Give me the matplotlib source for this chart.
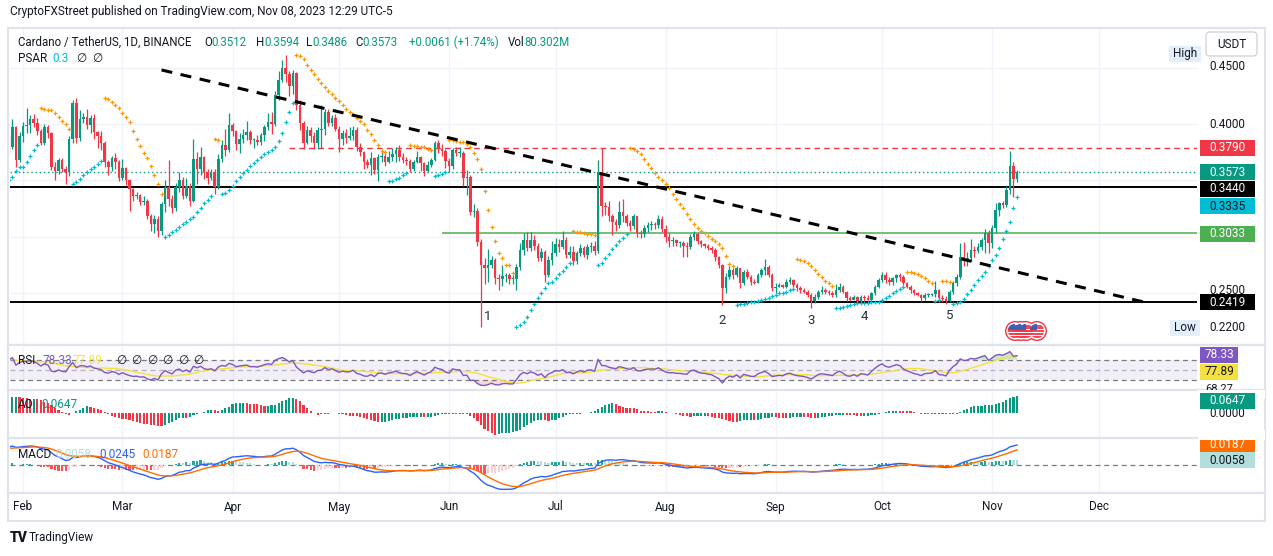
import numpy as np
import pandas as pd
import matplotlib
matplotlib.use("Agg")
import matplotlib.pyplot as plt
from matplotlib.patches import Rectangle, Circle, FancyBboxPatch

plt.rcParams['font.family'] = ['Roboto', 'DejaVu Sans']

W, H = 1273, 556
DARK = '#131722'
GREEN = '#089981'
RED = '#f23645'

# ---------------------------------------------------------------- data
# daily closes Dec 1 2022 .. Jan 27 2023, only used to warm up the indicators
warmup_close = [
    0.316, 0.313, 0.316, 0.320, 0.313, 0.313, 0.303, 0.310, 0.311, 0.311,
    0.307, 0.304, 0.306, 0.298, 0.280, 0.267, 0.271, 0.269, 0.259, 0.268,
    0.261, 0.255, 0.258, 0.262, 0.262, 0.260, 0.255, 0.251, 0.249, 0.249, 0.246,
    0.249, 0.259, 0.263, 0.275, 0.274, 0.279, 0.284, 0.294, 0.318, 0.324,
    0.323, 0.325, 0.329, 0.343, 0.335, 0.348, 0.347, 0.331, 0.345, 0.363,
    0.366, 0.356, 0.363, 0.348, 0.366, 0.375, 0.381,
]

first_day = pd.Timestamp("2023-01-28")

# ADA/USDT daily candles Jan 28 .. Nov 8 2023 (open = previous close)
close = [
    0.380, 0.397, 0.368, 0.389,
    # Feb
    0.398, 0.399, 0.404, 0.401, 0.394, 0.383, 0.397, 0.392, 0.362, 0.358,
    0.368, 0.360, 0.357, 0.387, 0.419, 0.388, 0.404, 0.406, 0.399, 0.405,
    0.393, 0.389, 0.383, 0.366, 0.362, 0.370, 0.366, 0.352,
    # Mar
    0.361, 0.350, 0.342, 0.336, 0.337, 0.331, 0.332, 0.318, 0.311, 0.316,
    0.305, 0.329, 0.344, 0.333, 0.325, 0.344, 0.350, 0.336, 0.345, 0.332,
    0.369, 0.360, 0.371, 0.357, 0.352, 0.357, 0.344, 0.369, 0.381, 0.377, 0.399,
    # Apr
    0.394, 0.382, 0.387, 0.390, 0.393, 0.386, 0.386, 0.384, 0.390, 0.397,
    0.402, 0.400, 0.426, 0.439, 0.450, 0.444, 0.434, 0.445, 0.417, 0.401,
    0.383, 0.395, 0.389, 0.383, 0.395, 0.396, 0.411, 0.401, 0.405, 0.396,
    # May
    0.387, 0.392, 0.388, 0.389, 0.395, 0.380, 0.375, 0.366, 0.364, 0.370,
    0.359, 0.371, 0.372, 0.366, 0.371, 0.373, 0.377, 0.371, 0.368, 0.367,
    0.360, 0.366, 0.371, 0.365, 0.358, 0.364, 0.368, 0.383, 0.378, 0.376, 0.367,
    # Jun
    0.363, 0.377, 0.374, 0.374, 0.352, 0.353, 0.322, 0.323, 0.295, 0.275,
    0.272, 0.275, 0.279, 0.263, 0.262, 0.265, 0.266, 0.262, 0.262, 0.273,
    0.288, 0.297, 0.290, 0.297, 0.292, 0.281, 0.286, 0.266, 0.279, 0.285,
    # Jul
    0.293, 0.291, 0.297, 0.284, 0.286, 0.278, 0.285, 0.290, 0.284, 0.291,
    0.292, 0.287, 0.357, 0.327, 0.326, 0.318, 0.313, 0.310, 0.322, 0.318,
    0.312, 0.309, 0.318, 0.303, 0.302, 0.308, 0.310, 0.311, 0.310, 0.316, 0.307,
    # Aug
    0.300, 0.296, 0.297, 0.294, 0.294, 0.292, 0.291, 0.300, 0.302, 0.296,
    0.293, 0.292, 0.290, 0.288, 0.282, 0.275, 0.254, 0.2644, 0.2703, 0.2660,
    0.2718, 0.2585, 0.2688, 0.2644, 0.2600, 0.2592, 0.2660, 0.2700, 0.2733, 0.2659, 0.2540,
    # Sep
    0.2555, 0.2570, 0.2555, 0.2600, 0.2614, 0.2570, 0.2540, 0.2526, 0.2511, 0.2481,
    0.2430, 0.2466, 0.2511, 0.2526, 0.2511, 0.2500, 0.2481, 0.2526, 0.2555, 0.2511,
    0.2452, 0.2440, 0.2466, 0.2425, 0.2466, 0.2455, 0.2437, 0.2496, 0.2555, 0.2614,
    # Oct
    0.2659, 0.2614, 0.2600, 0.2629, 0.2659, 0.2644, 0.2585, 0.2555, 0.2526, 0.2496,
    0.2481, 0.2452, 0.2481, 0.2485, 0.2490, 0.2526, 0.2452, 0.2447, 0.2425, 0.2511,
    0.2585, 0.2644, 0.2822, 0.2792, 0.2810, 0.2881, 0.2870, 0.2911, 0.2970, 0.3029, 0.2945,
    # Nov
    0.3074, 0.3236, 0.3296, 0.3281, 0.3414, 0.3627, 0.3512, 0.3573,
]

high = [
    0.389, 0.404, 0.398, 0.393,
    # Feb
    0.402, 0.414, 0.408, 0.409, 0.405, 0.396, 0.400, 0.399, 0.393, 0.366,
    0.370, 0.370, 0.363, 0.389, 0.421, 0.423, 0.412, 0.410, 0.413, 0.408,
    0.409, 0.394, 0.394, 0.385, 0.368, 0.372, 0.374, 0.368,
    # Mar
    0.369, 0.362, 0.351, 0.343, 0.340, 0.338, 0.336, 0.333, 0.320, 0.319,
    0.318, 0.331, 0.350, 0.368, 0.337, 0.348, 0.357, 0.353, 0.352, 0.348,
    0.387, 0.375, 0.380, 0.372, 0.360, 0.360, 0.360, 0.373, 0.386, 0.396, 0.410,
    # Apr
    0.401, 0.395, 0.392, 0.396, 0.403, 0.395, 0.388, 0.390, 0.392, 0.399,
    0.410, 0.411, 0.429, 0.447, 0.457, 0.461, 0.447, 0.448, 0.446, 0.421,
    0.403, 0.398, 0.397, 0.393, 0.397, 0.417, 0.413, 0.413, 0.408, 0.409,
    # May
    0.398, 0.395, 0.396, 0.397, 0.398, 0.397, 0.383, 0.376, 0.369, 0.375,
    0.371, 0.373, 0.375, 0.375, 0.376, 0.379, 0.380, 0.381, 0.374, 0.371,
    0.369, 0.368, 0.376, 0.372, 0.366, 0.367, 0.370, 0.385, 0.386, 0.382, 0.378,
    # Jun
    0.370, 0.379, 0.380, 0.380, 0.376, 0.359, 0.355, 0.329, 0.325, 0.298,
    0.281, 0.289, 0.283, 0.281, 0.267, 0.275, 0.268, 0.268, 0.266, 0.276,
    0.294, 0.303, 0.304, 0.304, 0.301, 0.294, 0.290, 0.288, 0.283, 0.296,
    # Jul
    0.299, 0.298, 0.305, 0.300, 0.292, 0.292, 0.287, 0.293, 0.292, 0.293,
    0.295, 0.296, 0.368, 0.379, 0.331, 0.332, 0.320, 0.316, 0.332, 0.333,
    0.320, 0.315, 0.320, 0.318, 0.306, 0.310, 0.313, 0.314, 0.313, 0.319, 0.318,
    # Aug
    0.310, 0.303, 0.300, 0.298, 0.296, 0.296, 0.295, 0.302, 0.305, 0.303,
    0.297, 0.294, 0.293, 0.292, 0.290, 0.283, 0.276, 0.268, 0.2735, 0.2720,
    0.2740, 0.2725, 0.2700, 0.2710, 0.2660, 0.2620, 0.2675, 0.2720, 0.2798, 0.2750, 0.2680,
    # Sep
    0.2590, 0.2590, 0.2580, 0.2620, 0.2640, 0.2625, 0.2590, 0.2560, 0.2545, 0.2530,
    0.2500, 0.2490, 0.2530, 0.2560, 0.2545, 0.2530, 0.2515, 0.2575, 0.2590, 0.2570,
    0.2520, 0.2470, 0.2480, 0.2475, 0.2480, 0.2480, 0.2480, 0.2510, 0.2570, 0.2630,
    # Oct
    0.2688, 0.2690, 0.2640, 0.2640, 0.2670, 0.2680, 0.2660, 0.2600, 0.2570, 0.2535,
    0.2510, 0.2490, 0.2495, 0.2495, 0.2500, 0.2609, 0.2535, 0.2480, 0.2475, 0.2530,
    0.2610, 0.2670, 0.2940, 0.2955, 0.2860, 0.2979, 0.2920, 0.2940, 0.2990, 0.3070, 0.3060,
    # Nov
    0.3100, 0.3296, 0.3310, 0.3320, 0.3450, 0.3763, 0.3666, 0.3594,
]

low = [
    0.374, 0.378, 0.362, 0.366,
    # Feb
    0.384, 0.392, 0.392, 0.397, 0.390, 0.381, 0.381, 0.388, 0.359, 0.350,
    0.356, 0.357, 0.347, 0.354, 0.383, 0.383, 0.385, 0.401, 0.396, 0.392,
    0.387, 0.379, 0.377, 0.362, 0.355, 0.358, 0.360, 0.349,
    # Mar
    0.350, 0.346, 0.323, 0.332, 0.333, 0.328, 0.328, 0.316, 0.305, 0.303,
    0.300, 0.301, 0.322, 0.327, 0.321, 0.323, 0.340, 0.333, 0.334, 0.327,
    0.331, 0.347, 0.355, 0.351, 0.347, 0.350, 0.338, 0.342, 0.366, 0.372, 0.375,
    # Apr
    0.389, 0.377, 0.374, 0.383, 0.386, 0.382, 0.379, 0.381, 0.381, 0.385,
    0.395, 0.391, 0.398, 0.421, 0.437, 0.437, 0.425, 0.427, 0.412, 0.395,
    0.378, 0.382, 0.384, 0.378, 0.378, 0.379, 0.390, 0.398, 0.398, 0.394,
    # May
    0.375, 0.381, 0.383, 0.386, 0.386, 0.376, 0.372, 0.360, 0.361, 0.355,
    0.356, 0.349, 0.366, 0.363, 0.365, 0.367, 0.366, 0.367, 0.365, 0.364,
    0.357, 0.358, 0.365, 0.358, 0.354, 0.357, 0.362, 0.367, 0.374, 0.372, 0.361,
    # Jun
    0.357, 0.360, 0.372, 0.371, 0.345, 0.337, 0.319, 0.317, 0.292, 0.220,
    0.258, 0.260, 0.272, 0.258, 0.253, 0.256, 0.260, 0.258, 0.258, 0.253,
    0.270, 0.284, 0.287, 0.287, 0.288, 0.278, 0.278, 0.260, 0.264, 0.275,
    # Jul
    0.283, 0.286, 0.289, 0.281, 0.281, 0.275, 0.276, 0.283, 0.282, 0.280,
    0.286, 0.284, 0.285, 0.318, 0.319, 0.314, 0.301, 0.305, 0.308, 0.313,
    0.309, 0.305, 0.307, 0.300, 0.299, 0.300, 0.304, 0.306, 0.307, 0.308, 0.304,
    # Aug
    0.295, 0.291, 0.292, 0.292, 0.291, 0.282, 0.282, 0.289, 0.297, 0.293,
    0.291, 0.290, 0.288, 0.285, 0.278, 0.272, 0.239, 0.250, 0.262, 0.2625,
    0.2640, 0.2540, 0.2570, 0.2620, 0.2570, 0.2580, 0.2585, 0.2640, 0.2660, 0.2640, 0.2520,
    # Sep
    0.2500, 0.2550, 0.2540, 0.2540, 0.2580, 0.2550, 0.2520, 0.2500, 0.2495, 0.2460,
    0.2363, 0.2410, 0.2450, 0.2490, 0.2490, 0.2485, 0.2465, 0.2460, 0.2510, 0.2500,
    0.2430, 0.2425, 0.2435, 0.2410, 0.2410, 0.2430, 0.2420, 0.2420, 0.2480, 0.2540,
    # Oct
    0.2600, 0.2590, 0.2570, 0.2570, 0.2600, 0.2610, 0.2570, 0.2540, 0.2500, 0.2480,
    0.2470, 0.2430, 0.2440, 0.2465, 0.2470, 0.2460, 0.2435, 0.2420, 0.2402, 0.2415,
    0.2490, 0.2560, 0.2620, 0.2740, 0.2740, 0.2780, 0.2820, 0.2850, 0.2880, 0.2852, 0.2852,
    # Nov
    0.2900, 0.3030, 0.3180, 0.3250, 0.3260, 0.3380, 0.3355, 0.3486,
]

# drawn levels
red_level, red_from = 0.3790, "2023-04-17"
green_level, green_from = 0.3033, "2023-05-30"
black_levels = [0.3440, 0.2419]
last_price = 0.3573
trend_dates = ["2023-03-12", "2023-12-14"]
trend_prices = [0.4480, 0.2417]
wave_names = ["1", "2", "3", "4", "5"]
wave_dates = ["2023-06-12", "2023-08-17", "2023-09-11", "2023-09-26", "2023-10-20"]
wave_prices = [0.2286, 0.2259, 0.2259, 0.2286, 0.2295]

price_ticks = [0.45, 0.40, 0.35, 0.30, 0.25]
month_starts = pd.date_range("2023-02-01", "2023-12-01", freq="MS")

assert len(close) == len(high) == len(low) == 285


def day(d):
    return (pd.Timestamp(d) - first_day).days


# ---------------------------------------------------------------- indicators
n_w = len(warmup_close)
c_all = np.array(warmup_close + close)
o_all = np.r_[c_all[0], c_all[:-1]]
h_all = np.r_[np.maximum(o_all[:n_w], c_all[:n_w]), high]
l_all = np.r_[np.minimum(o_all[:n_w], c_all[:n_w]), low]
h_all = np.maximum(h_all, np.maximum(o_all, c_all))
l_all = np.minimum(l_all, np.minimum(o_all, c_all))
x_all = np.arange(-n_w, len(close))

s = pd.Series(c_all)
d = s.diff().fillna(0)
gain = d.clip(lower=0).ewm(alpha=1 / 14, adjust=False).mean()
loss = (-d.clip(upper=0)).ewm(alpha=1 / 14, adjust=False).mean()
rsi = 100 - 100 / (1 + gain / loss)
rsi_ma = rsi.rolling(14).mean()

hl2 = pd.Series((h_all + l_all) / 2)
ao = (hl2.rolling(5).mean() - hl2.rolling(34).mean()).values

macd = (s.ewm(span=12, adjust=False).mean() - s.ewm(span=26, adjust=False).mean())
signal = macd.ewm(span=9, adjust=False).mean()
hist = (macd - signal).values


def psar(hi, lo, start=0.02, inc=0.02, mx=0.2):
    n = len(hi)
    sar = np.zeros(n)
    upt = np.zeros(n, bool)
    trend_up, af, ep = True, start, hi[0]
    sar[0], upt[0] = lo[0], True
    for i in range(1, n):
        prev = sar[i - 1]
        v = prev + af * (ep - prev)
        if trend_up:
            v = min(v, lo[i - 1], lo[max(i - 2, 0)])
            if lo[i] < v:
                trend_up, v, ep, af = False, ep, lo[i], start
            elif hi[i] > ep:
                ep, af = hi[i], min(af + inc, mx)
        else:
            v = max(v, hi[i - 1], hi[max(i - 2, 0)])
            if hi[i] > v:
                trend_up, v, ep, af = True, ep, hi[i], start
            elif lo[i] < ep:
                ep, af = lo[i], min(af + inc, mx)
        sar[i], upt[i] = v, trend_up
    return sar, upt


sar, sar_up = psar(h_all, l_all)

v = slice(n_w, None)
xv = x_all[v]
o, c, hh, ll = o_all[v], c_all[v], h_all[v], l_all[v]

# ---------------------------------------------------------------- layout
fig = plt.figure(figsize=(W / 100, H / 100), dpi=100)
fig.patch.set_facecolor('white')


def box(x0, y0, x1, y1):
    return [x0 / W, 1 - y1 / H, (x1 - x0) / W, (y1 - y0) / H]


ax = fig.add_axes(box(10, 29, 1197, 344))
ax_rsi = fig.add_axes(box(10, 346, 1197, 389))
ax_ao = fig.add_axes(box(10, 391, 1197, 437))
ax_macd = fig.add_axes(box(10, 439, 1197, 492))
month_x = [day(m) for m in month_starts]
for a in (ax, ax_rsi, ax_ao, ax_macd):
    a.set_xlim(0.32, 334.7)
    for sp in a.spines.values():
        sp.set_visible(False)
    a.set_xticks([])
    a.set_yticks([])
    for mx_ in month_x:
        a.axvline(mx_, color='#f0f3fa', lw=1, zorder=0)

# main pane
ax.set_ylim(0.20462, 0.48437)
for p in price_ticks:
    ax.axhline(p, color='#f0f3fa', lw=1, zorder=0)

cols = np.where(c >= o, GREEN, RED)
ax.vlines(xv, ll, hh, colors=cols, lw=0.9, zorder=3)
ax.bar(xv, np.maximum(np.abs(c - o), 0.0008), bottom=np.minimum(o, c),
       width=0.72, color=cols, linewidth=0, zorder=4)

sv, su = sar[v], sar_up[v]
ax.scatter(xv[su], sv[su], marker='+', s=10, color='#00bcd4', lw=0.9, zorder=5)
ax.scatter(xv[~su], sv[~su], marker='+', s=10, color='#ff9800', lw=0.9, zorder=5)

for lv in black_levels:
    ax.axhline(lv, color='black', lw=1.4, zorder=2)
ax.axhline(last_price, color=GREEN, lw=1, ls=(0, (1, 2)), zorder=2)
ax.hlines(red_level, day(red_from), 334.7, color=RED, lw=1, linestyles=[(0, (4, 3))], zorder=2)
ax.hlines(green_level, day(green_from), 334.7, color='#4caf50', lw=1.1, zorder=2)
ax.plot([day(t) for t in trend_dates], trend_prices, color='black', lw=2.2,
        dashes=(3.6, 2.8), zorder=6)
for nm, dt, pr in zip(wave_names, wave_dates, wave_prices):
    ax.text(day(dt), pr, nm, fontsize=9.5, color='#2a2e39', ha='center', va='center', zorder=7)

# RSI pane
rv, rmv = rsi.values[v], rsi_ma.values[v]
ax_rsi.set_ylim(13.3, 96.4)
ax_rsi.axhspan(30, 70, color='#7e57c2', alpha=0.09, lw=0, zorder=1)
ax_rsi.axhline(70, color='#787b86', lw=0.9, dashes=(4, 3), zorder=2)
ax_rsi.axhline(50, color='#787b86', lw=0.9, dashes=(4, 3), alpha=0.5, zorder=2)
ax_rsi.axhline(30, color='#787b86', lw=0.9, dashes=(4, 3), zorder=2)
ax_rsi.fill_between(xv, 70, rv, where=rv > 70, interpolate=True, color='#4caf50', alpha=0.3, lw=0)
ax_rsi.fill_between(xv, rv, 30, where=rv < 30, interpolate=True, color=RED, alpha=0.2, lw=0)
ax_rsi.plot(xv, rmv, color='#f5e13b', lw=1, zorder=3)
ax_rsi.plot(xv, rv, color='#7e57c2', lw=1, zorder=4)

# AO pane
aov = ao[v]
ao_prev = ao[n_w - 1:-1]
ax_ao.set_ylim(-0.0888, 0.0835)
ax_ao.bar(xv, aov, width=0.6, color=np.where(aov >= ao_prev, GREEN, RED), linewidth=0, zorder=3)

# MACD pane
hv = hist[v]
h_prev = hist[n_w - 1:-1]
hcols = np.where(hv >= 0, np.where(hv > h_prev, '#26a69a', '#b2dfdb'),
                 np.where(hv > h_prev, '#ffcdd2', '#ff5252'))
ax_macd.set_ylim(-0.0322, 0.0317)
ax_macd.axhline(0, color='#787b86', lw=0.9, dashes=(4, 3), zorder=2)
ax_macd.bar(xv, hv, width=0.6, color=hcols, linewidth=0, zorder=3)
ax_macd.plot(xv, macd.values[v], color='#2962ff', lw=1, zorder=4)
ax_macd.plot(xv, signal.values[v], color='#ff6d00', lw=1, zorder=5)

# ---------------------------------------------------------------- overlay (pixel coords)
ov = fig.add_axes([0, 0, 1, 1], zorder=10)
ov.set_xlim(0, W)
ov.set_ylim(H, 0)
ov.axis('off')
ov.patch.set_alpha(0)
renderer = fig.canvas.get_renderer()


def chain(x, y, parts, size=8.5):
    for txt, col in parts:
        t = ov.text(x, y, txt, color=col, fontsize=size, ha='left', va='center', zorder=9)
        x += t.get_window_extent(renderer).width
    return x


def tag(y, txt, fc, tc='white', w=55, x0=1200):
    ov.add_patch(Rectangle((x0, y - 8), w, 16, fc=fc, ec='none', zorder=5))
    ov.text(x0 + w / 2, y, txt, color=tc, fontsize=8.5, ha='center', va='center', zorder=6)


ov.text(10, 12, "CryptoFXStreet published on TradingView.com, Nov 08, 2023 12:29 UTC-5",
        fontsize=8.5, color=DARK, va='center')

chain(18, 42, [("Cardano / TetherUS, 1D, BINANCE", DARK)], size=8.3)
for x0, k, val in [(204, "O", "0.3512"), (256, "H", "0.3594"), (306, "L", "0.3486"), (355, "C", "0.3573")]:
    chain(x0, 42, [(k, DARK), (val, GREEN)], size=8.3)
chain(409, 42, [("+0.0061 (+1.74%)", GREEN)], size=8.3)
chain(508, 42, [("Vol", DARK), ("80.302M", GREEN)], size=8.3)

chain(18, 59, [("PSAR", DARK)])
chain(52, 59, [("0.3", '#00bcd4')])
for xx in (76, 92):
    chain(xx, 59, [("\u2205", DARK)])

chain(18, 360, [("RSI", DARK)])
chain(43, 360, [("78.33", '#7e57c2')])
chain(73, 360, [("77.89", '#f5e13b')])
for xx in (116, 131, 147, 162, 178, 193):
    chain(xx, 360, [("\u2205", DARK)])
chain(18, 404, [("AO", DARK)])
chain(41, 404, [("0.0647", GREEN)])
chain(18, 454, [("MACD", DARK)])
chain(55, 454, [("0.0058", '#b2dfdb')])
chain(99, 454, [("0.0245", '#2962ff')])
chain(142, 454, [("0.0187", '#ff6d00')])

# price scale
for yy, txt in [(67, "0.4500"), (124, "0.4000"), (291, "0.2500")]:
    ov.text(1227, yy, txt, fontsize=8.5, color=DARK, ha='center', va='center', zorder=4)
tag(147.5, "0.3790", RED)
tag(172, "0.3573", GREEN)
tag(189, "0.3440", 'black')
tag(206, "0.3335", '#00bcd4', tc=DARK)
tag(233.5, "0.3033", '#4caf50')
tag(302, "0.2419", 'black')
ov.add_patch(Rectangle((1170, 319.5), 30, 16, fc='#e3effd', ec='none', zorder=5))
ov.text(1185, 327.5, "Low", fontsize=8.5, color=DARK, ha='center', va='center', zorder=6)
ov.text(1227, 327.5, "0.2200", fontsize=8.5, color=DARK, ha='center', va='center', zorder=6)
ov.add_patch(Rectangle((1169, 46), 32, 16, fc='#e3effd', ec='none', zorder=5))
ov.text(1185, 54, "High", fontsize=8.5, color=DARK, ha='center', va='center', zorder=6)
ov.add_patch(FancyBboxPatch((1206, 32), 51, 24, boxstyle="round,pad=0,rounding_size=4",
                            fc='white', ec='#d1d4dc', lw=1, zorder=7))
ov.text(1231.5, 44.5, "USDT", fontsize=8.5, color=DARK, ha='center', va='center', zorder=8)

# indicator scales
tag(354.5, "78.33", '#7e57c2', w=38)
tag(371.5, "77.89", '#f5e13b', tc=DARK, w=38)
ov.text(1219, 388.5, "68.27", fontsize=8, color=DARK, ha='center', va='center', zorder=4)
ov.add_patch(Rectangle((1198, 390), 67, 9, fc='white', ec='none', zorder=4.5))
ov.text(1227, 413.5, "0.0000", fontsize=8.5, color=DARK, ha='center', va='center', zorder=4)
tag(401, "0.0647", GREEN)
tag(445, "0.0187", '#ff6d00')
ov.add_patch(Rectangle((1198, 430), 67, 9.5, fc='white', ec='none', zorder=5.5))
tag(460, "0.0058", '#b2dfdb', tc=DARK)

# US event flags
for cx in (1026, 1021, 1037, 1015):
    ov.add_patch(Circle((cx, 331), 10, fc=RED, ec='none', zorder=7))
    ov.add_patch(Circle((cx, 331), 8.6, fc='white', ec='none', zorder=7.05))
    inner = Circle((cx, 331), 7.2, fc='white', ec='none', zorder=7.1)
    ov.add_patch(inner)
    for k in range(5):
        ln, = ov.plot([cx - 8, cx + 8], [325.5 + 2.8 * k] * 2, color=RED, lw=1.3, zorder=7.2)
        ln.set_clip_path(inner)
    rc = Rectangle((cx - 7.5, 323.5), 7, 6, fc='#3f5fb5', ec='none', zorder=7.3)
    ov.add_patch(rc)
    rc.set_clip_path(inner)

# separators and frame
for yy in (345, 390, 438, 493):
    ov.plot([8, 1265], [yy, yy], color='#e0e3eb', lw=1.6, zorder=3)
ov.add_patch(Rectangle((8, 28), 1257, 493, fc='none', ec='#e0e3eb', lw=1.5, zorder=3))

# time axis
for mx_, m in zip(month_x, month_starts):
    xp = 8.85 + mx_ * 3.55
    ov.text(xp, 507, m.strftime('%b'), fontsize=8.5, color=DARK, ha='center', va='center')

ov.text(10, 538, "TV", fontsize=10, fontweight='heavy', color=DARK, va='center')
ov.text(29, 538, "TradingView", fontsize=8.5, color=DARK, va='center')

fig.savefig("out.png", dpi=100, facecolor='white')
